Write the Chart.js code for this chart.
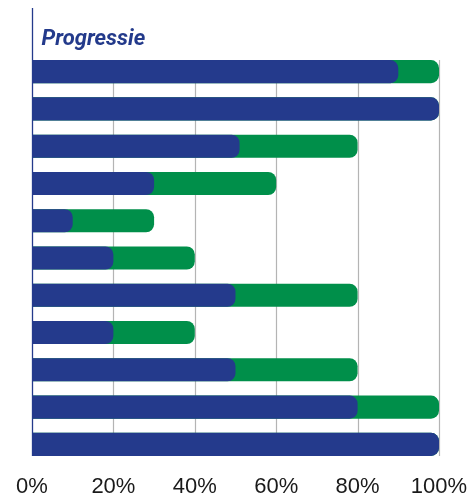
<!DOCTYPE html>
<html>
<head>
<meta charset="utf-8">
<script src="https://cdn.jsdelivr.net/npm/chart.js@4/dist/chart.umd.min.js"></script>
<style>
  html, body { margin: 0; padding: 0; background: #fff; }
  .wrap { width: 474px; height: 498px; }
</style>
</head>
<body>
<div class="wrap"><canvas id="progressie"></canvas></div>
<script>
// data
const rows = ['1', '2', '3', '4', '5', '6', '7', '8', '9', '10', '11'];
const behaald = [90, 100, 51, 30, 10, 20, 50, 20, 50, 80, 100];
const totaal = [100, 100, 80, 60, 30, 40, 80, 40, 80, 100, 100];
const xTicks = [0, 20, 40, 60, 80, 100];

const BLUE = '#243a8c';
const GREEN = '#008f4a';

// gridlines + left axis line + title
const framePlugin = {
  id: 'frame',
  beforeDatasetsDraw(chart) {
    const ctx = chart.ctx;
    const x = chart.scales.x;
    const bars = chart.getDatasetMeta(0).data;
    const first = bars[0];
    const last = bars[bars.length - 1];
    const top = first.y - first.height / 2;
    const bottom = last.y + last.height / 2;
    ctx.save();
    ctx.strokeStyle = '#b4b4b4';
    ctx.lineWidth = 1.2;
    xTicks.slice(1).forEach(v => {
      const px = Math.round(x.getPixelForValue(v)) + 0.5;
      ctx.beginPath();
      ctx.moveTo(px, top);
      ctx.lineTo(px, bottom);
      ctx.stroke();
    });
    ctx.restore();
  },
  afterDatasetsDraw(chart) {
    const ctx = chart.ctx;
    const x = chart.scales.x;
    const bars = chart.getDatasetMeta(0).data;
    const last = bars[bars.length - 1];
    const x0 = Math.round(x.getPixelForValue(0)) + 0.5;
    ctx.save();
    ctx.strokeStyle = BLUE;
    ctx.lineWidth = 1.3;
    ctx.beginPath();
    ctx.moveTo(x0, chart.chartArea.top - 45);
    ctx.lineTo(x0, last.y + last.height / 2);
    ctx.stroke();

    ctx.fillStyle = '#233a8b';
    ctx.font = 'italic bold 22px "Liberation Sans Narrow", "Roboto", sans-serif';
    ctx.textAlign = 'left';
    ctx.textBaseline = 'alphabetic';
    ctx.fillText('Progressie', x0 + 9, chart.chartArea.top - 8);
    ctx.restore();
  }
};

new Chart(document.getElementById('progressie'), {
  type: 'bar',
  data: {
    labels: rows,
    datasets: [
      {
        label: 'behaald',
        data: behaald,
        backgroundColor: BLUE,
        borderRadius: 8,
        borderSkipped: 'start',
        categoryPercentage: 1,
        barPercentage: 0.62,
      },
      {
        label: 'totaal',
        data: totaal,
        backgroundColor: GREEN,
        borderRadius: 8,
        borderSkipped: 'start',
        categoryPercentage: 1,
        barPercentage: 0.62,
      },
    ],
  },
  options: {
    indexAxis: 'y',
    responsive: true,
    maintainAspectRatio: false,
    animation: false,
    layout: { padding: { left: 32, right: 35, top: 53, bottom: 0 } },
    plugins: {
      legend: { display: false },
      tooltip: { enabled: false },
    },
    scales: {
      y: {
        display: false,
        stacked: true,
      },
      x: {
        stacked: false,
        min: 0,
        max: 100,
        grid: { display: false, drawTicks: false },
        border: { display: false },
        afterBuildTicks: scale => {
          scale.ticks = xTicks.map(v => ({ value: v }));
        },
        afterFit: scale => {
          scale.height = 35;
          scale.paddingLeft = 0;
          scale.paddingRight = 0;
        },
        ticks: {
          padding: 11,
          color: '#1a1a1a',
          font: { family: '"Liberation Sans", Arial, sans-serif', size: 22 },
          callback: v => v + '%',
        },
      },
    },
  },
  plugins: [framePlugin],
});
</script>
</body>
</html>
